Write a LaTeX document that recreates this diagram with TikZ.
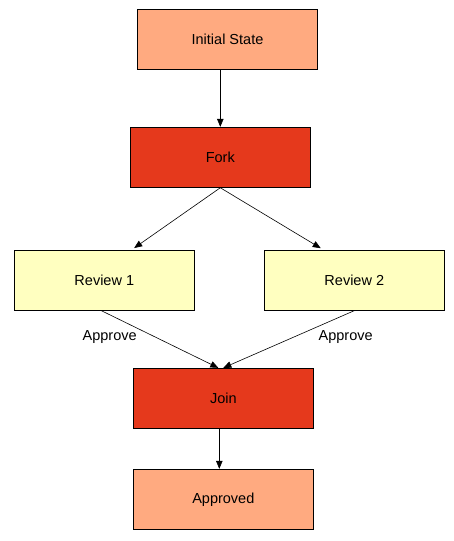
\documentclass[tikz,border=0pt]{standalone}
\usepackage{fontspec}
\setmainfont{Liberation Sans}
\usetikzlibrary{positioning,arrows.meta}
\definecolor{salmon}{HTML}{FFAA80}
\definecolor{forkred}{HTML}{E5391C}
\definecolor{paleyellow}{HTML}{FFFFC0}
\tikzstyle{state}  = [rectangle, minimum width=180pt, minimum height=60pt, text centered, draw=black, line width=0.9pt]
\tikzstyle{arrow}  = [line width=0.6pt,-{Triangle[length=8pt,width=6.5pt]}]

\begin{document}
\begin{tikzpicture}[x=1pt,y=-1pt,font=\fontsize{14.5}{17}\selectfont,
			start/.style={state, fill=salmon},
			bar/.style={state, fill=forkred},
			review/.style={state, fill=paleyellow},
		]
		\useasboundingbox (0,0) rectangle (454,541);

		\node[start]  (init)  at (227.5,39.5)  {Initial State};
		\node[bar]    (fork)  at (220.3,157.3) {Fork};
		\node[review] (rev1)  at (104.3,280.2) {Review 1};
		\node[review] (rev2)  at (354.3,280.2) {Review 2};
		\node[bar]    (join)  at (223.3,398.3) {Join};
		\node[start]  (appr)  at (223.3,499.3) {Approved};

		\node (lbl1) at (109.7,337.3) {Approve};
		\node (lbl2) at (345.7,337.3) {Approve};

		\draw[arrow] (init.south -| fork.north) -- (fork.north);
		\draw[arrow, shorten >=3pt] (fork.south) -- ([xshift=27.4pt]rev1.north);
		\draw[arrow, shorten >=3pt] (fork.south) -- ([xshift=-31pt]rev2.north);
		\draw[arrow] ([xshift=-3pt]rev1.south) -- ([xshift=-5pt]join.north);
		\draw[arrow] (rev2.south) -- (join.north);
		\draw[arrow] ([xshift=-4pt]join.south) -- ([xshift=-4pt]appr.north);
	\end{tikzpicture}
\end{document}
